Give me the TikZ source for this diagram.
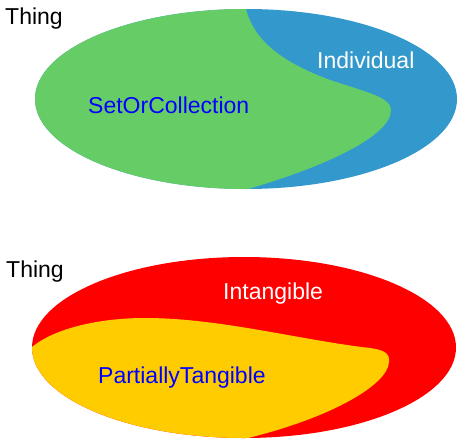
\documentclass[tikz,border=0pt]{standalone}
\usepackage{fontspec}
\setmainfont{Liberation Sans}
\begin{document}
\begin{tikzpicture}[x=1pt,y=-1pt,
  lbl/.style={anchor=base west, inner sep=0pt, font=\fontsize{23}{27}\selectfont}]
\definecolor{cgreen}{HTML}{66CC66}
\definecolor{cblue}{HTML}{3399CC}
\definecolor{cred}{HTML}{FF0000}
\definecolor{cyellow}{HTML}{FFCC00}
\definecolor{ctext}{HTML}{0000FF}
\useasboundingbox (0,0) rectangle (457,439);
% top diagram
\fill[cblue] (246,99) ellipse [x radius=211pt, y radius=90pt];
\begin{scope}
  \clip (246,99) ellipse [x radius=211pt, y radius=90pt];
  \fill[cgreen] (246,0) -- (246,9) .. controls (255,45) and (290,65) .. (330,80)
    .. controls (370,93) and (391,98) .. (391,110)
    .. controls (391,135) and (330,165) .. (248,189)
    -- (248,200) -- (0,200) -- (0,0) -- cycle;
\end{scope}
\node[lbl] (thing1) at (5,24) {Thing};
\node[lbl, white] (indiv) at (317,68) {Individual};
\node[lbl, ctext] (setcoll) at (88,113) {SetOrCollection};
% bottom diagram
\fill[cred] (244,347.5) ellipse [x radius=212pt, y radius=90.5pt];
\begin{scope}
  \clip (244,347.5) ellipse [x radius=212pt, y radius=90.5pt];
  \fill[cyellow] (0,347) -- (32,347) .. controls (55,328) and (100,318) .. (145,318)
    .. controls (220,318) and (300,340) .. (370,348)
    .. controls (385,350) and (390,354) .. (389,362)
    .. controls (388,385) and (330,418) .. (248,438)
    -- (248,450) -- (0,450) -- cycle;
\end{scope}
\node[lbl] (thing2) at (6,277) {Thing};
\node[lbl, white] (intang) at (223,299) {Intangible};
\node[lbl, ctext] (partial) at (98,383) {PartiallyTangible};
\end{tikzpicture}
\end{document}
